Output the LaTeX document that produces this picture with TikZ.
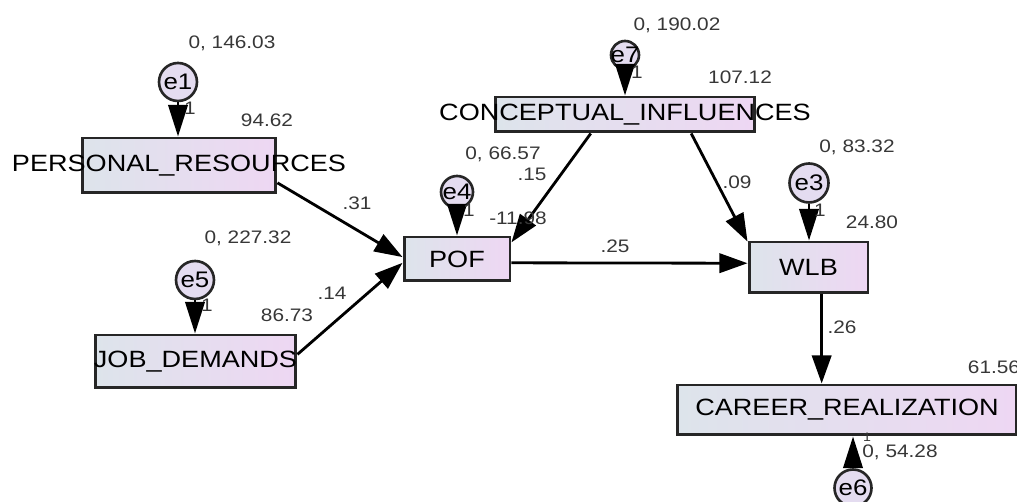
\documentclass[tikz,border=0pt]{standalone}
\usepackage{fontspec}
\setmainfont[FakeStretch=1.15]{Liberation Sans}
\usetikzlibrary{arrows.meta}
\definecolor{boxleft}{RGB}{221,228,235}
\definecolor{boxright}{RGB}{238,215,243}
\definecolor{errfill}{RGB}{228,220,240}
\definecolor{estgray}{RGB}{55,55,55}
\begin{document}
\begin{tikzpicture}[x=0.02cm,y=-0.02cm]
        \tikzstyle{observed}=[draw=black!85,line width=1.7pt,left color=boxleft,right color=boxright,inner sep=0pt]
        \tikzstyle{varname}=[inner sep=0pt,font=\fontsize{13.4}{15}\selectfont]
        \tikzstyle{error}=[circle,draw=black!85,line width=1.5pt,fill=errfill,inner sep=0pt]
        \tikzstyle{errname}=[inner sep=0pt,font=\fontsize{12.8}{15}\selectfont]
        \tikzstyle{est}=[inner sep=0pt,text=estgray,font=\fontsize{10.3}{12}\selectfont]
        \tikzstyle{path}=[line width=1.6pt,-{Triangle[length=16pt,width=11pt]}]
        \tikzstyle{errpath}=[line width=1.6pt,-{Triangle[length=18pt,width=11pt]}]
        \useasboundingbox (0,0) rectangle (1017,502);
        \node[observed,minimum width=3.88cm,minimum height=1.10cm,label={[varname]center:PERSONAL\_RESOURCES}] (pr) at (179,165.5) {};
        \node[observed,minimum width=4.02cm,minimum height=1.06cm,label={[varname]center:JOB\_DEMANDS}] (jd) at (195.5,361.5) {};
        \node[observed,minimum width=5.20cm,minimum height=0.70cm,label={[varname]center:CONCEPTUAL\_INFLUENCES}] (ci) at (625,114.5) {};
        \node[observed,minimum width=2.12cm,minimum height=0.88cm,label={[varname]center:POF}] (pof) at (457,259) {};
        \node[observed,minimum width=2.38cm,minimum height=1.02cm,label={[varname]center:WLB}] (wlb) at (808.5,267.5) {};
        \node[observed,minimum width=6.78cm,minimum height=1.00cm,label={[varname]center:CAREER\_REALIZATION}] (cr) at (847,410) {};
        \node[error,minimum size=0.76cm,label={[errname]center:e1}] (e1) at (178,82) {};
        \node[error,minimum size=0.76cm,label={[errname]center:e5}] (e5) at (195,280) {};
        \node[error,minimum size=0.56cm,label={[errname]center:e7}] (e7) at (625,55) {};
        \node[error,minimum size=0.64cm,label={[errname]center:e4}] (e4) at (457,192) {};
        \node[error,minimum size=0.78cm,label={[errname]center:e3}] (e3) at (809,183) {};
        \node[error,minimum size=0.74cm,label={[errname]center:e6}] (e6) at (853,488) {};
        \draw[errpath] (e1) -- (e1 |- pr.north);
        \draw[errpath] (e5) -- (e5 |- jd.north);
        \draw[errpath] (e7) -- (e7 |- ci.north);
        \draw[errpath] (e4) -- (e4 |- pof.north);
        \draw[errpath] (e3) -- (e3 |- wlb.north);
        \draw[errpath] (e6) -- (e6 |- cr.south);
        \draw[path] (pr.-10) -- (pof.178);
        \draw[path] (jd.4) -- (pof.184);
        \draw[path] (ci.209) -- (pof.17);
        \draw[path] (ci.-16) -- (wlb.157);
        \draw[path] (pof.-4) -- (wlb.176);
        \draw[path] (wlb.-64) -- (wlb.-64 |- cr.north);
        \node[est] at (232,43) {0, 146.03};
        \node[est] at (190,108) {1};
        \node[est] at (267,120) {94.62};
        \node[est] at (248,238) {0, 227.32};
        \node[est] at (207,305) {1};
        \node[est] at (287,315) {86.73};
        \node[est] at (332,293) {.14};
        \node[est] at (357,203) {.31};
        \node[est] at (677,25) {0, 190.02};
        \node[est] at (637,72) {1};
        \node[est] at (740,77) {107.12};
        \node[est] at (503,154) {0, 66.57};
        \node[est] at (532,174) {.15};
        \node[est] at (469,210) {1};
        \node[est] at (518,218) {-11.98};
        \node[est] at (615,246) {.25};
        \node[est] at (737,182) {.09};
        \node[est] at (857,147) {0, 83.32};
        \node[est] at (820,210) {1};
        \node[est] at (872,222) {24.80};
        \node[est] at (842,327) {.26};
        \node[est] at (994,367) {61.56};
        \node[est,font=\fontsize{7}{8}\selectfont] at (867,437) {1};
        \node[est] at (900,452) {0, 54.28};
\end{tikzpicture}
\end{document}
